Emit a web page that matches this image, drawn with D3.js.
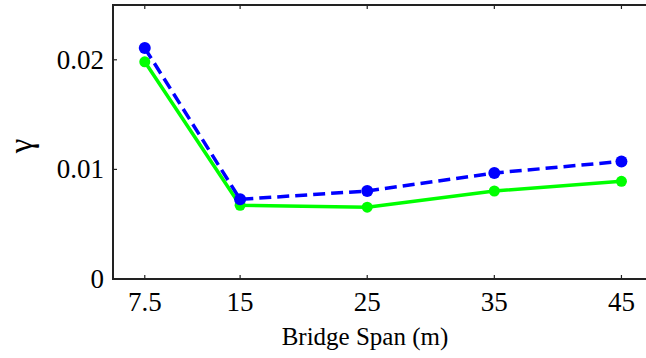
<!DOCTYPE html>
<html>
<head>
<meta charset="utf-8">
<script src="https://cdn.jsdelivr.net/npm/d3@7"></script>
<style>
    html, body { margin: 0; padding: 0; background: #fff; overflow: hidden; }
    svg { display: block; font-family: 'Liberation Serif', 'Times New Roman', serif; }
</style>
</head>
<body>
<div class="chart"></div>
<script>
//
// DATA
//
const spans = [7.5, 15, 25, 35, 45]
const gammaDashed = [0.02107, 0.00727, 0.00803, 0.00967, 0.01073]
const gammaSolid = [0.01982, 0.00673, 0.00655, 0.00803, 0.00891]
const yTicks = [0, 0.01, 0.02]
const yTickLabels = ['0', '0.01', '0.02']

//
// GLOBALS
//
const width = 646
const height = 358
// the axes box runs off the right edge of the picture
const margin = { left: 113, top: 5, right: 685, bottom: 279 }

const svg = d3
    .select('.chart')
    .append('svg')
    .attr('width', width)
    .attr('height', height)

const x = d3.scaleLinear().domain([5, 50]).range([margin.left, margin.right])
const y = d3.scaleLinear().domain([0, 0.025]).range([margin.bottom, margin.top])

// axis box
svg.append('rect')
    .attr('x', margin.left)
    .attr('y', margin.top)
    .attr('width', margin.right - margin.left)
    .attr('height', margin.bottom - margin.top)
    .attr('fill', 'none')
    .attr('stroke', '#222')
    .attr('stroke-width', 2)

// inward ticks, bottom + top
const tickLen = 4
spans.forEach(v => {
    svg.append('line')
        .attr('x1', x(v)).attr('x2', x(v))
        .attr('y1', y(0)).attr('y2', y(0) - tickLen)
        .attr('stroke', '#222').attr('stroke-width', 1.2)
    svg.append('line')
        .attr('x1', x(v)).attr('x2', x(v))
        .attr('y1', margin.top).attr('y2', margin.top + tickLen)
        .attr('stroke', '#222').attr('stroke-width', 1.2)
    svg.append('text')
        .attr('x', x(v))
        .attr('y', 311)
        .attr('text-anchor', 'middle')
        .style('font-size', '27px')
        .text(v)
})

yTicks.forEach((v, i) => {
    svg.append('line')
        .attr('x1', margin.left).attr('x2', margin.left + tickLen)
        .attr('y1', y(v)).attr('y2', y(v))
        .attr('stroke', '#222').attr('stroke-width', 1.2)
    svg.append('text')
        .attr('x', 104)
        .attr('y', y(v))
        .attr('dy', '0.33em')
        .attr('text-anchor', 'end')
        .style('font-size', '27px')
        .text(yTickLabels[i])
})

// axis labels
svg.append('text')
    .attr('x', 365)
    .attr('y', 345)
    .attr('text-anchor', 'middle')
    .style('font-size', '25px')
    .text('Bridge Span (m)')

svg.append('text')
    .attr('transform', 'translate(32,146) rotate(-90)')
    .attr('text-anchor', 'middle')
    .style('font-size', '33px')
    .text('γ')

// series: solid green first, dashed blue on top
const line = d3.line().x(d => x(d[0])).y(d => y(d[1]))

const plotSeries = (values, color, dash, r) => {
    const pts = spans.map((s, i) => [s, values[i]])
    svg.append('path')
        .datum(pts)
        .attr('d', line)
        .attr('fill', 'none')
        .attr('stroke', color)
        .attr('stroke-width', 3.5)
        .attr('stroke-dasharray', dash)
    svg.append('g')
        .selectAll('circle')
        .data(pts)
        .join('circle')
        .attr('cx', d => x(d[0]))
        .attr('cy', d => y(d[1]))
        .attr('r', r)
        .attr('fill', color)
}

plotSeries(gammaSolid, '#00ff00', null, 5.5)
plotSeries(gammaDashed, '#0000ff', '12,6', 6)
</script>
</body>
</html>
